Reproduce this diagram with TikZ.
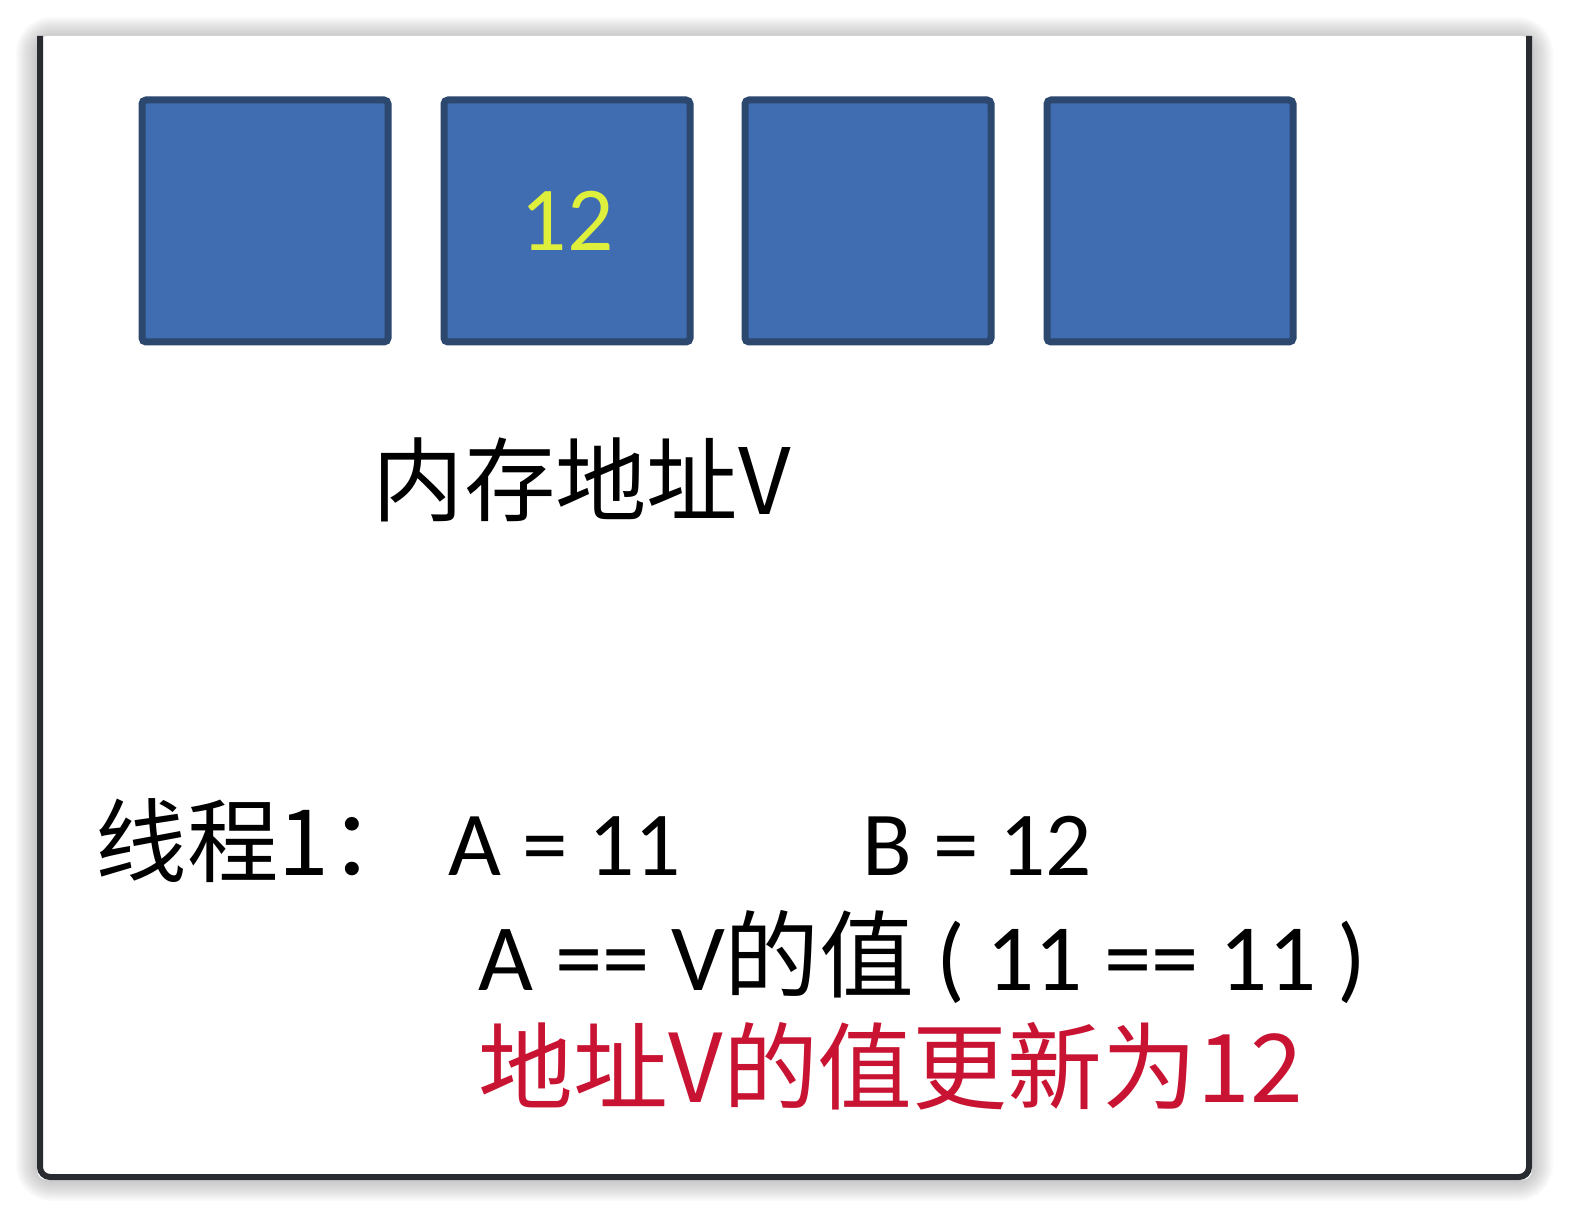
\documentclass[tikz,border=0pt]{standalone}
\usepackage{fontspec}
\setmainfont{Carlito}
\newfontfamily\cjk{Noto Sans CJK SC}
\definecolor{cellblue}{RGB}{64,108,178}
\definecolor{celledge}{RGB}{44,72,110}
\definecolor{framegray}{RGB}{40,44,48}
\definecolor{numyellow}{RGB}{222,240,60}
\definecolor{updred}{RGB}{200,20,50}
\begin{document}
\begin{tikzpicture}[x=0.1mm,y=-0.1mm,
  cell/.style={draw=celledge, fill=cellblue, line width=0.7mm, rounded corners=0.4mm,
    minimum width=24.6mm, minimum height=24.2mm, inner sep=0pt,
    font=\fontsize{26}{30}\selectfont},
  txt/.style={anchor=base west, inner sep=0pt, font=\fontsize{26}{30}\selectfont}]
\useasboundingbox (0,0) rectangle (1570,1218);
% soft shadow round the card
\foreach \w in {1,...,12}
  \draw[black, opacity=0.02, line width=\w pt, rounded corners=1.5mm] (37,38) rectangle (1532,1180);
\fill[white, rounded corners=1mm] (37,36) rectangle (1532,1180);
\draw[framegray, line width=0.6mm, rounded corners=1mm] (40,36) -- (40,1177) -- (1529,1177) -- (1529,36);
% memory cells
\node[cell] (m1) at (265,221) {};
\node[cell] (m2) at (567,221) {\color{numyellow}12};
\node[cell] (m3) at (868,221) {};
\node[cell] (m4) at (1170,221) {};
\node[txt] (addr) at (372,515) {\cjk 内存地址V};
% thread 1
\node[txt] (t1) at (95,875) {\cjk 线程1：};
\node[txt] (va) at (448,875) {A = 11};
\node[txt] (vb) at (862,875) {B = 12};
\node[txt, font=\fontsize{27}{30}\selectfont] (cmp) at (478,990) {A == V{\cjk 的值} ( 11 == 11 )};
\node[txt, text=updred, font=\fontsize{27}{30}\selectfont] (upd) at (478,1102) {\cjk 地址V的值更新为12};
\end{tikzpicture}
\end{document}
